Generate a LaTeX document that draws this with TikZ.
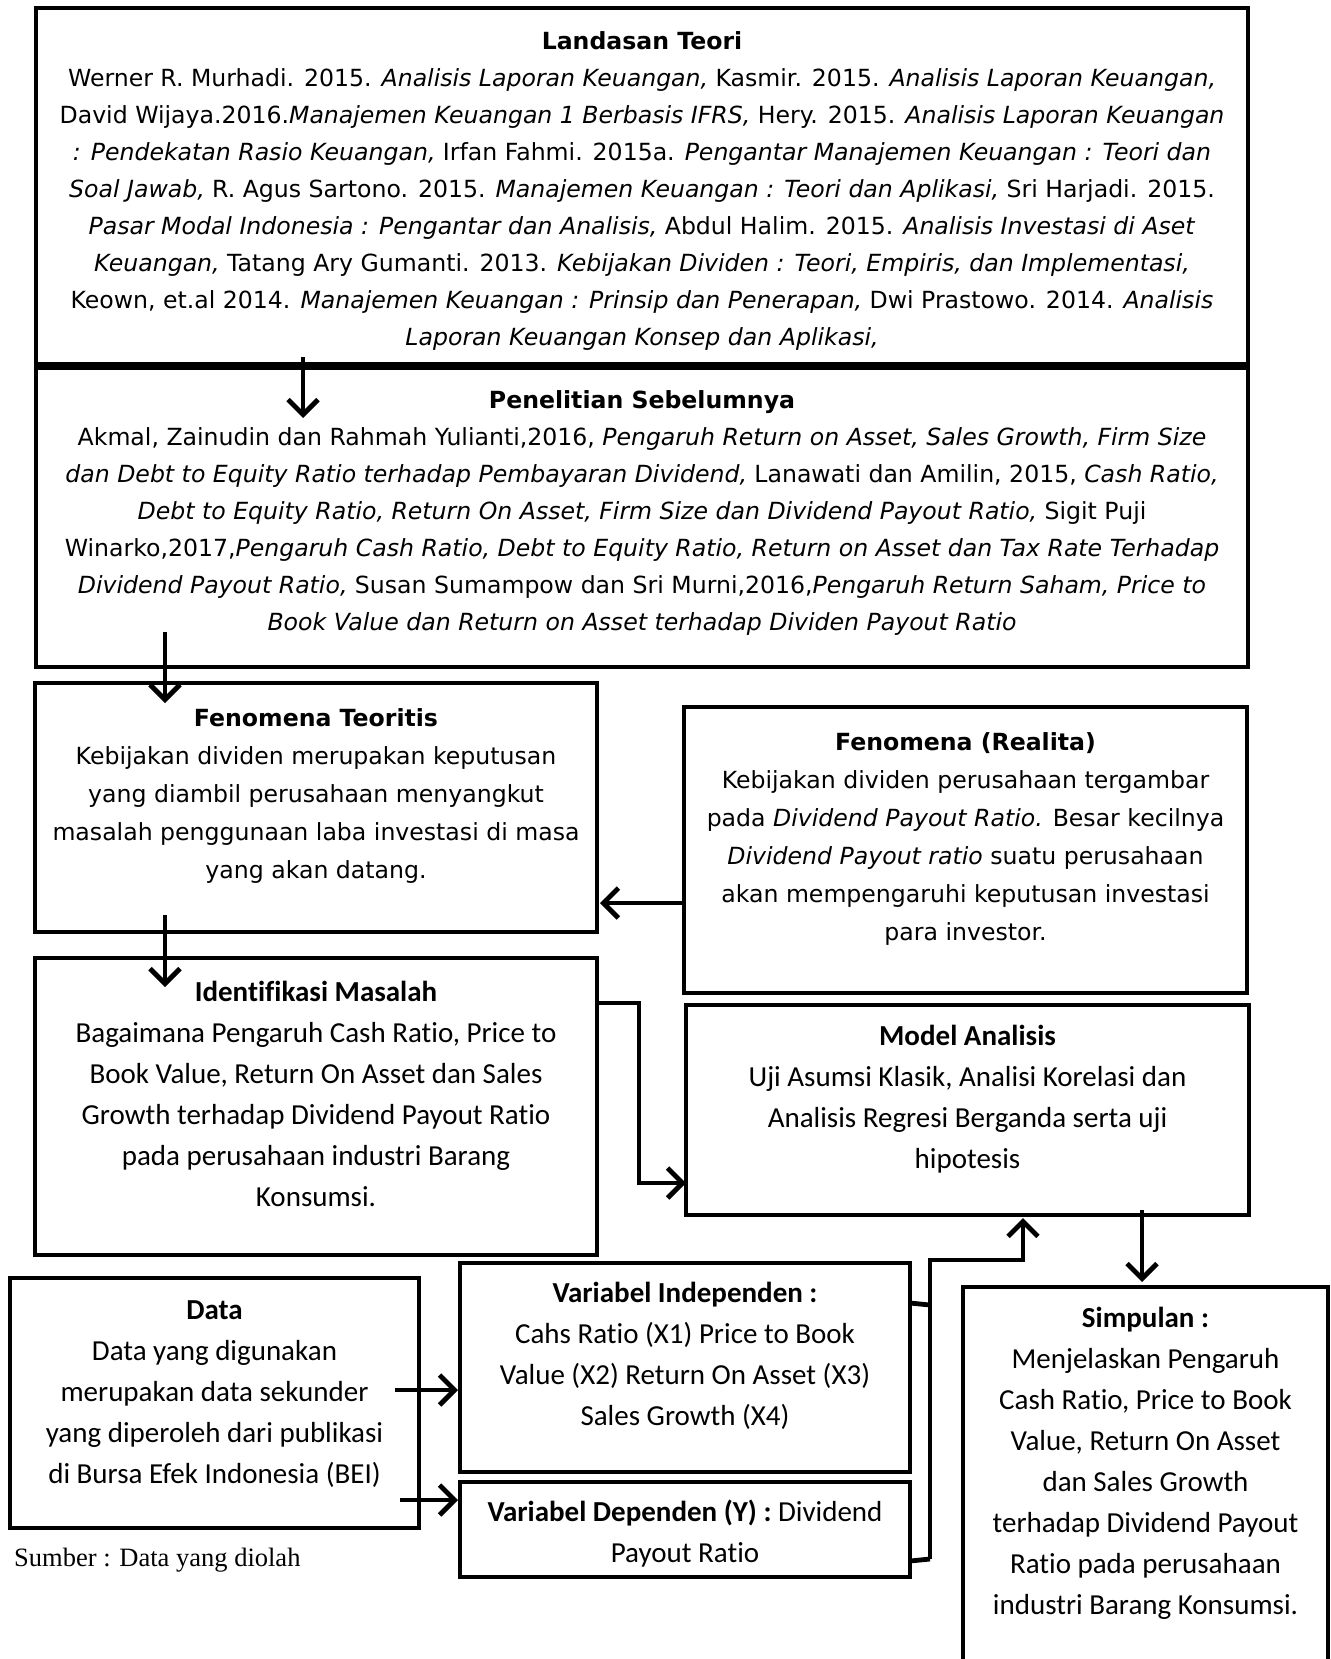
\documentclass[tikz,border=0pt]{standalone}
\usepackage{fontspec}
\newfontfamily\tahfont{DejaVu Sans}
\newfontfamily\calfont{Carlito}[Ligatures=NoCommon]
\newfontfamily\timesfont{Liberation Serif}
\usetikzlibrary{arrows.meta,calc}
\begin{document}
\begin{tikzpicture}[x=1pt,y=-1pt,
  box/.style={draw, line width=4.8pt, inner sep=0pt, outer sep=0pt},
  conn/.style={line width=4.8pt},
  arr/.style={conn, -{Straight Barb[length=15pt,width=30pt]}},
  tT/.style={align=center, inner sep=0pt, font={\tahfont\fontsize{23.6}{37}\selectfont}},
  tTb/.style={align=center, inner sep=0pt, font={\tahfont\fontsize{23.6}{38}\selectfont}},
  tC/.style={align=center, inner sep=0pt, font={\calfont\fontsize{29}{41}\selectfont}}]
\fill[white] (0,0) rectangle (1330,1659);
\useasboundingbox (0,0) rectangle (1330,1659);

% boxes
\node[box, minimum width=1212pt, minimum height=356pt] (land) at (642,186) {};
\node[box, minimum width=1212pt, minimum height=299pt] (pen) at (642,517.5) {};
\node[box, minimum width=562pt, minimum height=249pt] (teo) at (316,807.5) {};
\node[box, minimum width=563pt, minimum height=286pt] (real) at (965.5,850) {};
\node[box, minimum width=562pt, minimum height=297pt] (ide) at (316,1106.5) {};
\node[box, minimum width=563pt, minimum height=210pt] (mod) at (967.5,1110) {};
\node[box, minimum width=409pt, minimum height=250pt] (data) at (214.5,1403) {};
\node[box, minimum width=450pt, minimum height=209pt] (vi) at (685,1367.5) {};
\node[box, minimum width=450pt, minimum height=95pt] (vd) at (685,1529.5) {};
\node[box, minimum width=365pt, minimum height=433pt] (simp) at (1145.5,1503.5) {};

% texts
\node[tT] (landt) at (642,190.3) {\strut\textbf{Landasan Teori}\\
Werner R. Murhadi. 2015. \textit{Analisis Laporan Keuangan,} Kasmir. 2015. \textit{Analisis Laporan Keuangan,}\\
David Wijaya.2016.\textit{Manajemen Keuangan 1 Berbasis IFRS,} Hery. 2015. \textit{Analisis Laporan Keuangan}\\
\textit{: Pendekatan Rasio Keuangan,} Irfan Fahmi. 2015a. \textit{Pengantar Manajemen Keuangan : Teori dan}\\
\textit{Soal Jawab,} R. Agus Sartono. 2015. \textit{Manajemen Keuangan : Teori dan Aplikasi,} Sri Harjadi. 2015.\\
\textit{Pasar Modal Indonesia : Pengantar dan Analisis,} Abdul Halim. 2015. \textit{Analisis Investasi di Aset}\\
\textit{Keuangan,} Tatang Ary Gumanti. 2013. \textit{Kebijakan Dividen : Teori, Empiris, dan Implementasi,}\\
Keown, et.al 2014. \textit{Manajemen Keuangan : Prinsip dan Penerapan,} Dwi Prastowo. 2014. \textit{Analisis}\\
\textit{Laporan Keuangan Konsep dan Aplikasi,}\strut};

\node[tT] (pent) at (642,512) {\strut\textbf{Penelitian Sebelumnya}\\
Akmal, Zainudin dan Rahmah Yulianti,2016, \textit{Pengaruh Return on Asset, Sales Growth, Firm Size}\\
\textit{dan Debt to Equity Ratio terhadap Pembayaran Dividend,} Lanawati dan Amilin, 2015, \textit{Cash Ratio,}\\
\textit{Debt to Equity Ratio, Return On Asset, Firm Size dan Dividend Payout Ratio,} Sigit Puji\\
Winarko,2017,\textit{Pengaruh Cash Ratio, Debt to Equity Ratio, Return on Asset dan Tax Rate Terhadap}\\
\textit{Dividend Payout Ratio,} Susan Sumampow dan Sri Murni,2016,\textit{Pengaruh Return Saham, Price to}\\
\textit{Book Value dan Return on Asset terhadap Dividen Payout Ratio}\strut};

\node[tTb] (teot) at (316,794.5) {\strut\textbf{Fenomena Teoritis}\\
Kebijakan dividen merupakan keputusan\\
yang diambil perusahaan menyangkut\\
masalah penggunaan laba investasi di masa\\
yang akan datang.\strut};

\node[tTb] (realt) at (965.5,837.5) {\strut\textbf{Fenomena (Realita)}\\
Kebijakan dividen perusahaan tergambar\\
pada \textit{Dividend Payout Ratio.} Besar kecilnya\\
\textit{Dividend Payout ratio} suatu perusahaan\\
akan mempengaruhi keputusan investasi\\
para investor.\strut};

\node[tC] (idet) at (316,1095.5) {\strut\textbf{Identif\kern0pt ikasi Masalah}\\
Bagaimana Pengaruh Cash Ratio, Price to\\
Book Value, Return On Asset dan Sales\\
Growth terhadap Dividend Payout Ratio\\
pada perusahaan industri Barang\\
Konsumsi.\strut};

\node[tC] (modt) at (967.5,1099) {\strut\textbf{Model Analisis}\\
Uji Asumsi Klasik, Analisi Korelasi dan\\
Analisis Regresi Berganda serta uji\\
hipotesis\strut};

\node[tC] (datat) at (214.5,1393.5) {\strut\textbf{Data}\\
Data yang digunakan\\
merupakan data sekunder\\
yang diperoleh dari publikasi\\
di Bursa Efek Indonesia (BEI)\strut};

\node[tC] (vit) at (685,1356) {\strut\textbf{Variabel Independen :}\\
Cahs Ratio (X1) Price to Book\\
Value (X2) Return On Asset (X3)\\
Sales Growth (X4)\strut};

\node[tC] (vdt) at (685,1534) {\strut\textbf{Variabel Dependen (Y) :} Dividend\\
Payout Ratio\strut};

\node[tC] (simpt) at (1145.5,1462.5) {\strut\textbf{Simpulan :}\\
Menjelaskan Pengaruh\\
Cash Ratio, Price to Book\\
Value, Return On Asset\\
dan Sales Growth\\
terhadap Dividend Payout\\
Ratio pada perusahaan\\
industri Barang Konsumsi.\strut};

\node[anchor=west, inner sep=0pt, font={\timesfont\fontsize{26.5}{30}\selectfont}] (src) at (14,1560) {Sumber : Data yang diolah};

% connectors
\draw[arr] ($(land.south)+(-339,-7)$) -- ($(pen.north)+(-339,50)$);
\draw[arr] ($(pen.south)+(-477,-35)$) -- ($(teo.north)+(-151,20)$);
\draw[arr] ($(real.west)+(0,53)$) -- ($(teo.east)+(3,95.5)$);
\draw[arr] ($(teo.south)+(-151,-17)$) -- ($(ide.north)+(-151,29)$);
\draw[arr] ($(ide.east)+(0,-103.5)$) -- ++(42,0) |- ($(mod.west)+(0,73)$);
\draw[arr] ($(data.east)+(-24,-13)$) -- ($(vi.west)+(-2,22.5)$);
\draw[arr] ($(data.east)+(-19,97)$) -- ($(vd.west)+(-2,-29.5)$);
\draw[conn] ($(vi.east)+(0,-64.5)$) -- ++(20,2) coordinate (b1);
\draw[conn] ($(vd.east)+(0,31.5)$) -- ++(20,-2) coordinate (b2);
\coordinate (bt) at (930,1260);
\draw[arr] (b2) -- (bt) -| ($(mod.south)+(55.5,3)$);
\draw[arr] ($(mod.south)+(174.5,-5)$) -- ($(simp.north)+(-3.5,-5)$);
\end{tikzpicture}
\end{document}
